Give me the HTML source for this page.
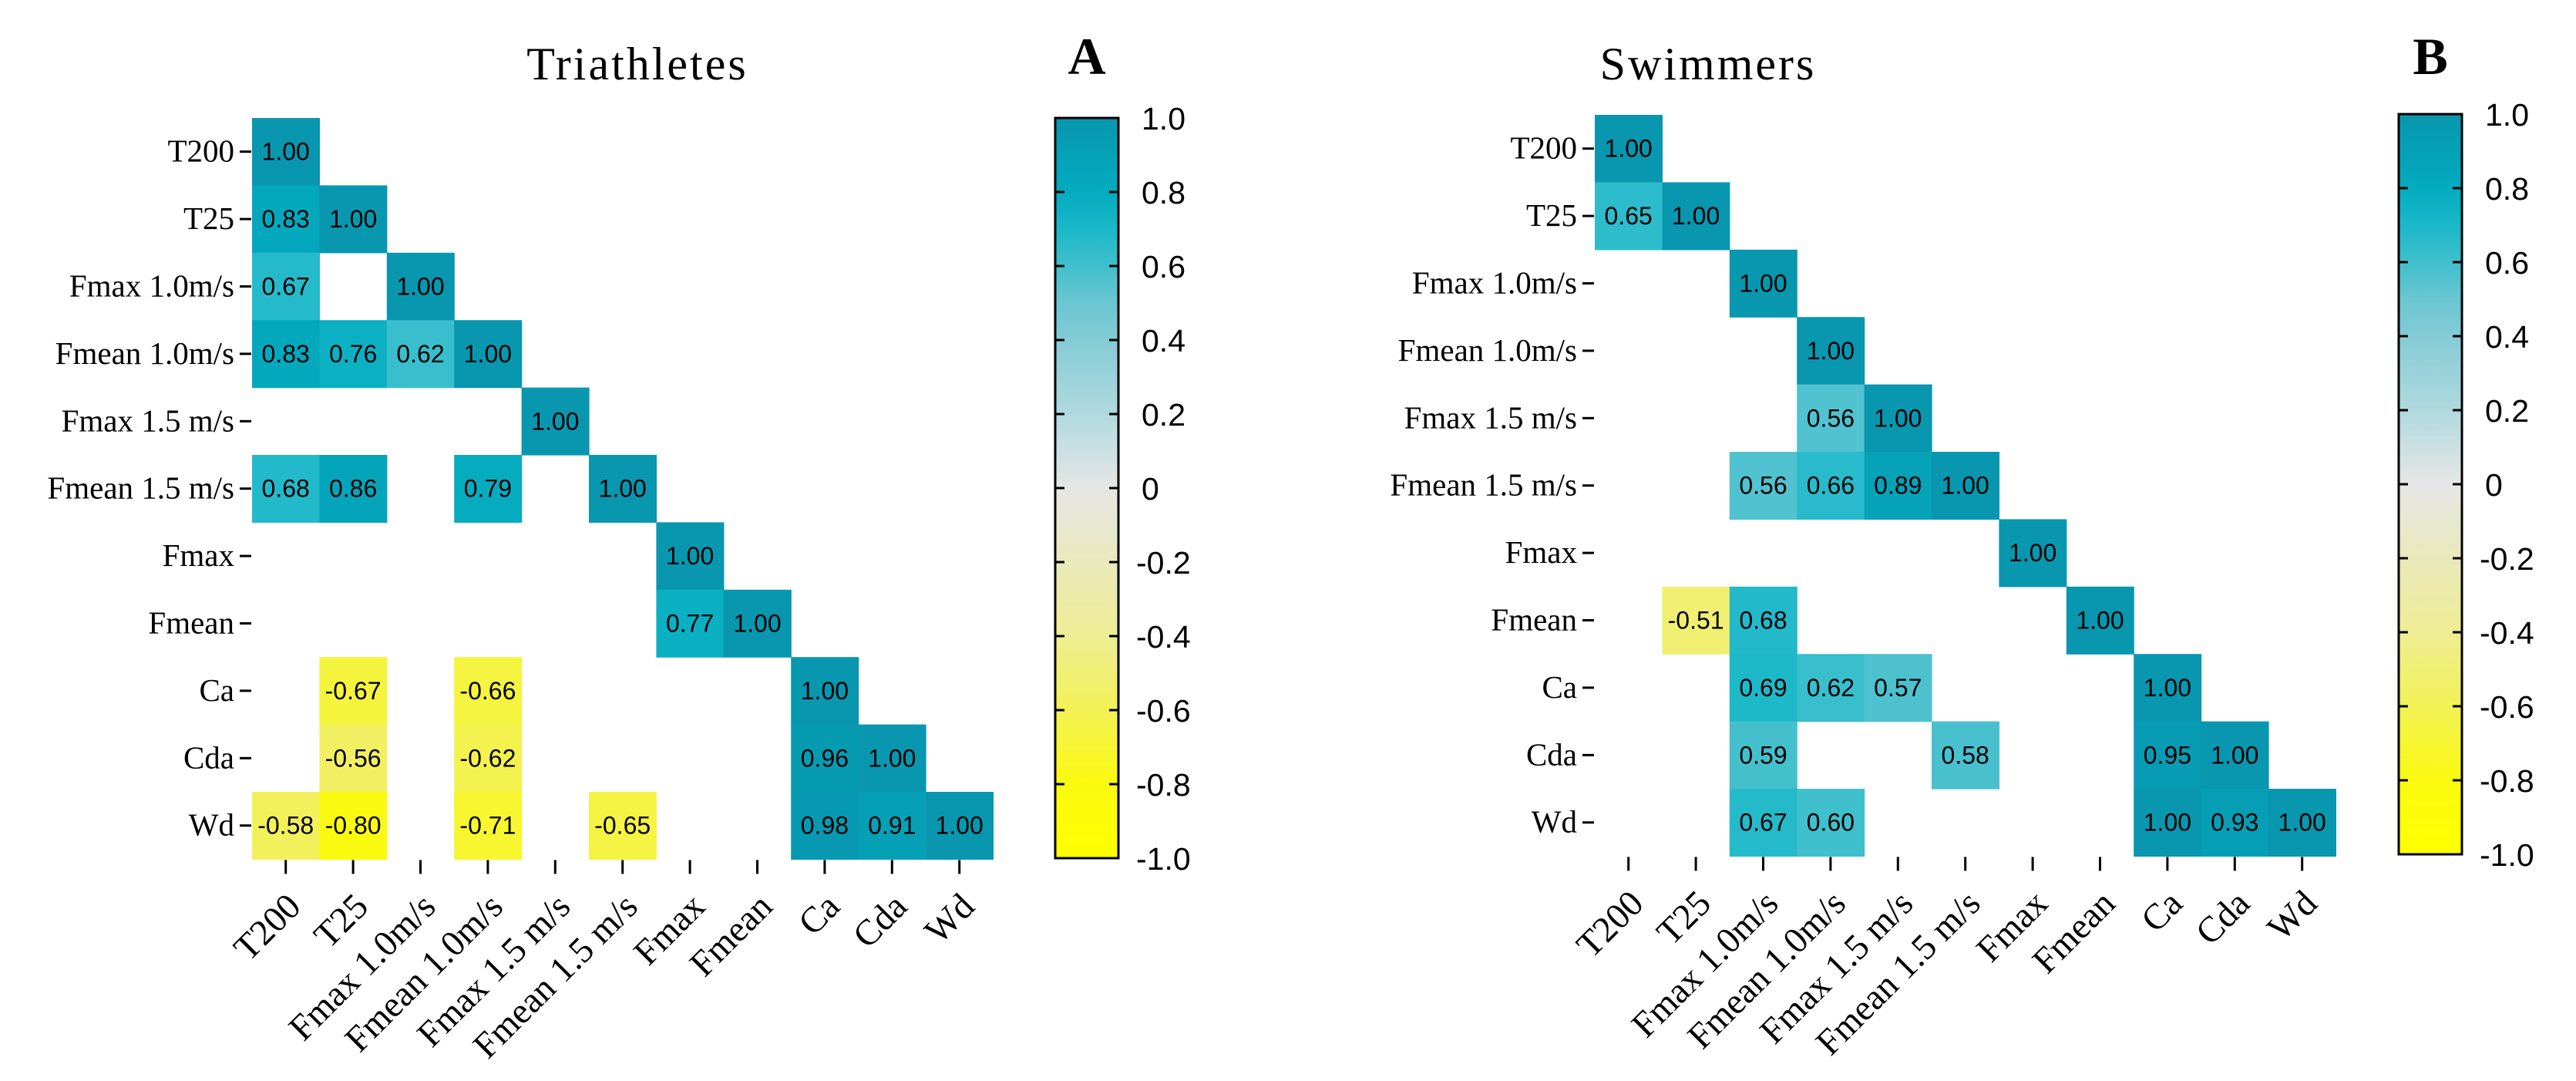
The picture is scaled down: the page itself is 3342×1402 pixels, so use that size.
<!DOCTYPE html>
<html><head><meta charset="utf-8">
<style>
html,body{margin:0;padding:0;background:#fff;}
svg{display:block;}
.ser{font-family:"Liberation Serif",serif;}
.san{font-family:"Liberation Sans",sans-serif;}
</style></head>
<body>
<svg id="fig" width="3342" height="1402" viewBox="0 0 3342 1402" xmlns="http://www.w3.org/2000/svg">
<defs>
<linearGradient id="cbgrad" x1="0" y1="0" x2="0" y2="1">
<stop offset="0" stop-color="#0897af"/>
<stop offset="0.1" stop-color="#03abbf"/>
<stop offset="0.15" stop-color="#1ab8c9"/>
<stop offset="0.2" stop-color="#40bfcd"/>
<stop offset="0.25" stop-color="#6ac6d1"/>
<stop offset="0.3" stop-color="#84cbd5"/>
<stop offset="0.4" stop-color="#b0d9df"/>
<stop offset="0.5" stop-color="#e6e6e6"/>
<stop offset="0.6" stop-color="#eae9bc"/>
<stop offset="0.7" stop-color="#eeed94"/>
<stop offset="0.8" stop-color="#f3f155"/>
<stop offset="0.9" stop-color="#fafa10"/>
<stop offset="1" stop-color="#ffff00"/>
</linearGradient>
</defs>
</svg>
<script>
const labels = ["T200","T25","Fmax 1.0m/s","Fmean 1.0m/s","Fmax 1.5 m/s","Fmean 1.5 m/s","Fmax","Fmean","Ca","Cda","Wd"];
const n = null;
const valuesA = [
 [1.00],
 [0.83,1.00],
 [0.67,n,1.00],
 [0.83,0.76,0.62,1.00],
 [n,n,n,n,1.00],
 [0.68,0.86,n,0.79,n,1.00],
 [n,n,n,n,n,n,1.00],
 [n,n,n,n,n,n,0.77,1.00],
 [n,-0.67,n,-0.66,n,n,n,n,1.00],
 [n,-0.56,n,-0.62,n,n,n,n,0.96,1.00],
 [-0.58,-0.80,n,-0.71,n,-0.65,n,n,0.98,0.91,1.00]
];
const valuesB = [
 [1.00],
 [0.65,1.00],
 [n,n,1.00],
 [n,n,n,1.00],
 [n,n,n,0.56,1.00],
 [n,n,0.56,0.66,0.89,1.00],
 [n,n,n,n,n,n,1.00],
 [n,-0.51,0.68,n,n,n,n,1.00],
 [n,n,0.69,0.62,0.57,n,n,n,1.00],
 [n,n,0.59,n,n,0.58,n,n,0.95,1.00],
 [n,n,0.67,0.60,n,n,n,n,1.00,0.93,1.00]
];
const cbTicks = [1.0,0.8,0.6,0.4,0.2,0,-0.2,-0.4,-0.6,-0.8,-1.0];
const cbTickLabels = ["1.0","0.8","0.6","0.4","0.2","0","-0.2","-0.4","-0.6","-0.8","-1.0"];

const stops = [[1,[8,151,175]],[0.8,[3,171,191]],[0.7,[26,184,201]],[0.6,[64,191,205]],[0.5,[106,198,209]],[0.4,[132,203,213]],[0.2,[176,217,223]],[0,[230,230,230]],[-0.2,[234,233,188]],[-0.4,[238,237,148]],[-0.6,[243,241,85]],[-0.8,[250,250,16]],[-1,[255,255,0]]];
function color(v){
  for(let i=0;i<stops.length-1;i++){
    const [a,ca]=stops[i],[b,cb]=stops[i+1];
    if(v<=a && v>=b){const t=(a-v)/(a-b);
      return 'rgb('+ca.map((c,k)=>Math.round(c+(cb[k]-c)*t)).join(',')+')';}
  }
  return v>0?'rgb(8,151,175)':'rgb(255,255,0)';
}
const NS="http://www.w3.org/2000/svg";
const svg=document.getElementById('fig');
function mk(tag,attrs,parent,text){const e=document.createElementNS(NS,tag);for(const k in attrs)e.setAttribute(k,attrs[k]);if(text!==undefined)e.textContent=text;(parent||svg).appendChild(e);return e;}

function panel(id,data,title,letter,gx,gy,cell,titleX,cbx,cby,cbh){
  const g=mk('g',{});
  
  
  const xs=i=>gx+i*cell, ys=j=>gy+j*cell;
  const t=mk('text',{x:titleX,y:103,'text-anchor':'middle','font-size':60,'letter-spacing':3,class:'ser'},g,title);
  
  
  const L=mk('text',{x:cbx+41,y:96,'text-anchor':'middle','font-size':68,'font-weight':'bold',class:'ser'},g,letter);
  
  
  data.forEach((row,r)=>{row.forEach((v,c)=>{
    if(v===null)return;
    const rc=mk('rect',{x:xs(c),y:ys(r),width:cell+0.6,height:cell+0.6,fill:color(v)},g);
    
    
    const tx=mk('text',{x:xs(c)+cell/2,y:ys(r)+cell/2+11,'text-anchor':'middle','font-size':32,class:'san',fill:'#000'},g,v.toFixed(2));
    
    
  });});
  labels.forEach((lab,i)=>{
    const cy=ys(i)+cell/2;
    mk('line',{x1:gx-16,y1:cy,x2:gx-1,y2:cy,stroke:'#000','stroke-width':3},g);
    const yl=mk('text',{x:gx-23,y:cy+13,'text-anchor':'end','font-size':41,class:'ser'},g,lab);
    
    
    const cx=xs(i)+cell/2, by=gy+11*cell;
    mk('line',{x1:cx,y1:by+1,x2:cx,y2:by+19,stroke:'#000','stroke-width':3},g);
    const ax=cx+22, ay=by+64;
    const xl=mk('text',{x:ax,y:ay,'text-anchor':'end','font-size':47,class:'ser',transform:'rotate(-45 '+ax+' '+ay+')'},g,lab);
    
    
  });
  const cb=mk('rect',{x:cbx,y:cby,width:82,height:cbh,fill:'url(#cbgrad)',stroke:'#000','stroke-width':3},g);
  
  
  cbTicks.forEach((tv,i)=>{
    const y=cby+(1-tv)/2*cbh;
    if(i>0&&i<cbTicks.length-1){
      mk('line',{x1:cbx,y1:y,x2:cbx+12,y2:y,stroke:'#000','stroke-width':3},g);
      mk('line',{x1:cbx+70,y1:y,x2:cbx+82,y2:y,stroke:'#000','stroke-width':3},g);
    }
    const tl=mk('text',{x:cbx+(tv<0?105:112),y:y+15,'font-size':41,class:'san'},g,cbTickLabels[i]);
    
    
  });
}
panel('a',valuesA,'Triathletes','A',327,153,87.4,827,1369,153,960);
panel('b',valuesB,'Swimmers','B',2069,149,87.4,2216,3112,148,960);
</script>
</body></html>
